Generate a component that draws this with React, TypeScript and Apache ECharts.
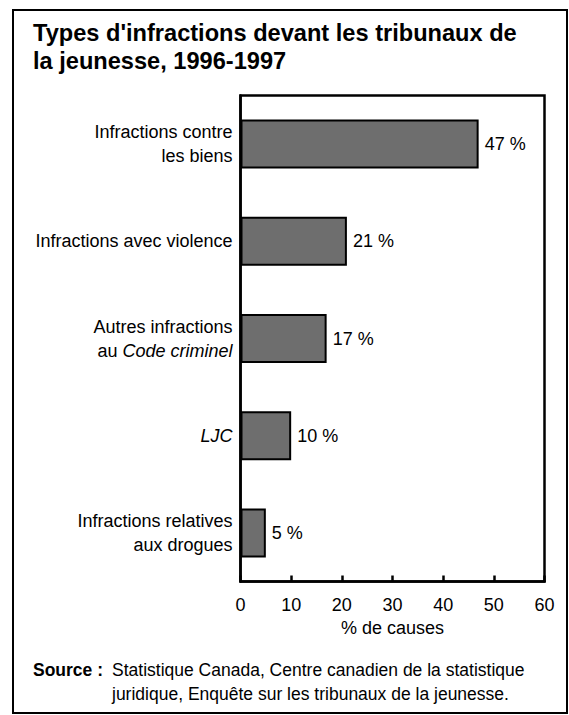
import React, { useEffect, useRef } from "react";
import * as echarts from "echarts";

const titleLines = ["Types d'infractions devant les tribunaux de", "la jeunesse, 1996-1997"];
const categories = [
  "Infractions contre\nles biens",
  "Infractions avec violence",
  "Autres infractions\nau Code criminel",
  "LJC",
  "Infractions relatives\naux drogues",
];
const italicParts = ["Code criminel", "LJC"];
const values = [47, 21, 17, 10, 5];
const xTicks = [0, 10, 20, 30, 40, 50, 60];
const xAxisName = "% de causes";
const sourceLabel = "Source :";
const sourceLines = [
  "Statistique Canada, Centre canadien de la statistique",
  "juridique, Enquête sur les tribunaux de la jeunesse.",
];

const FONT = "'Liberation Sans', Arial, Helvetica, sans-serif";

export default function App() {
  const ref = useRef<HTMLDivElement>(null);
  useEffect(() => {
    if (!ref.current) return;
    const chart = echarts.init(ref.current, undefined, { renderer: "svg" });
    chart.setOption({
      animation: false,
      backgroundColor: "#ffffff",
      grid: {
        left: 240.5,
        right: 24.5,
        top: 95.5,
        bottom: 133.5,
        show: true,
        borderColor: "#000",
        borderWidth: 2.5,
        backgroundColor: "transparent",
      },
      xAxis: {
        type: "value",
        min: xTicks[0],
        max: xTicks[xTicks.length - 1],
        interval: 10,
        splitLine: { show: false },
        axisLine: { show: true, lineStyle: { color: "#000", width: 2.5 } },
        axisTick: { show: true, inside: true, length: 6, lineStyle: { color: "#000", width: 2.5 } },
        axisLabel: { color: "#000", fontSize: 18, fontFamily: FONT, margin: 14 },
        name: xAxisName,
        nameLocation: "middle",
        nameGap: 37,
        nameTextStyle: { color: "#000", fontSize: 18, fontFamily: FONT },
      },
      yAxis: {
        type: "category",
        inverse: true,
        data: categories,
        axisLine: { show: true, lineStyle: { color: "#000", width: 2.5 } },
        axisTick: { show: false },
        splitLine: { show: false },
        axisLabel: {
          color: "#000",
          fontSize: 18,
          fontFamily: FONT,
          lineHeight: 24,
          margin: 8,
          align: "right",
          formatter: (v: string) => {
            let s = v;
            italicParts.forEach((p) => {
              s = s.replace(p, "{i|" + p + "}");
            });
            return s;
          },
          rich: {
            i: {
              fontStyle: "italic",
              fontSize: 18,
              fontFamily: FONT,
              color: "#000",
              lineHeight: 24,
            },
          },
        },
      },
      series: [
        {
          type: "bar",
          data: values,
          barWidth: 49,
          itemStyle: { color: "#6e6e6e", borderColor: "#000", borderWidth: 2 },
          label: {
            show: true,
            position: "right",
            distance: 6,
            formatter: "{c} %",
            color: "#000",
            fontSize: 18,
            fontFamily: FONT,
          },
        },
      ],
      graphic: [
        {
          type: "rect",
          shape: { x: 13, y: 10, width: 554, height: 703 },
          style: { fill: "none", stroke: "#000", lineWidth: 2 },
          silent: true,
        },
        ...titleLines.map((t, i) => ({
          type: "text",
          left: 33,
          top: 21 + i * 28,
          style: {
            text: t,
            fontSize: 23.6,
            fontWeight: "bold",
            fontFamily: FONT,
            fill: "#000",
          },
        })),
        {
          type: "text",
          left: 33,
          top: 661,
          style: {
            text: sourceLabel,
            fontSize: 17.5,
            fontWeight: "bold",
            fontFamily: FONT,
            fill: "#000",
          },
        },
        ...sourceLines.map((t, i) => ({
          type: "text",
          left: 112,
          top: 661 + i * 24,
          style: {
            text: t,
            fontSize: 17.5,
            fontFamily: FONT,
            fill: "#000",
          },
        })),
      ],
    });
    return () => chart.dispose();
  }, []);
  return (
    <div
      ref={ref}
      style={{ position: "absolute", left: 0, top: 0, width: 569, height: 715 }}
    />
  );
}
